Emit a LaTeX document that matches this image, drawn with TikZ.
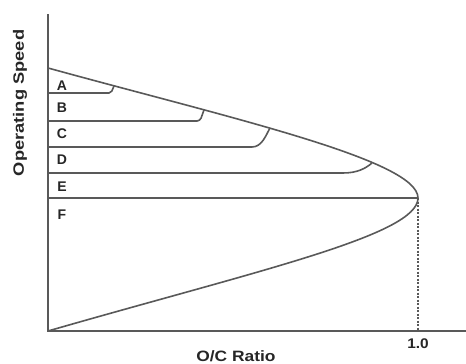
\documentclass[tikz,border=0pt]{standalone}
\usepackage{fontspec}
\setmainfont{Liberation Sans}
\begin{document}
\begin{tikzpicture}[x=1pt,y=-1pt,
  ln/.style={draw=black!65,line width=1.6pt},
  lbl/.style={font=\fontsize{14}{14}\selectfont\bfseries,text=black!85,inner sep=0pt},
  axl/.style={font=\fontsize{15}{15}\selectfont\bfseries,text=black!85,inner sep=0pt}]
\useasboundingbox (0,0) rectangle (466,364);
\coordinate (top) at (48,14);
\coordinate (o) at (48,331);
\coordinate (xr) at (466,331);
\coordinate (s0) at (48,68);
\coordinate (nose) at (418,198);
\coordinate (foot) at (418,331);
% axes
\draw[ln] (top) -- (o) -- (xr);
% upper and lower curves
\draw[ln] (s0) .. controls (230,118) and (418,160) .. (nose);
\draw[ln] (o) .. controls (260,270) and (418,235) .. (nose);
% steps
\coordinate (aL) at (48,93);  \coordinate (aR) at (114,86);
\coordinate (bL) at (48,121); \coordinate (bR) at (204,110);
\coordinate (cL) at (48,147); \coordinate (cR) at (270,128);
\coordinate (dL) at (48,173); \coordinate (dR) at (372,163);
\coordinate (eL) at (48,198);
\draw[ln,rounded corners=2pt] (aL) -- (111,93) -- (aR);
\draw[ln,rounded corners=3pt] (bL) -- (200,121) -- (bR);
\draw[ln] (cL) -- (252,147) .. controls (262,147) and (266,135) .. (cR);
\draw[ln] (dL) -- (343,173) .. controls (358,173) and (366,168) .. (dR);
\draw[ln] (eL) -- (nose);
\draw[draw=black!65,line width=1.2pt,dash pattern=on 2pt off 1.5pt] (nose) -- (foot);
% labels
\node[lbl] (A) at (62,86) {A};
\node[lbl] (B) at (62,108) {B};
\node[lbl] (C) at (62,134) {C};
\node[lbl] (D) at (62,160) {D};
\node[lbl] (E) at (62,187) {E};
\node[lbl] (F) at (62,215) {F};
\node[lbl,xscale=1.1] (one) at (418,344) {1.0};
\node[axl,xscale=1.16] (xl) at (236,356) {O/C Ratio};
\node[axl,rotate=90,xscale=1.22] (yl) at (20,103) {Operating Speed};
\end{tikzpicture}
\end{document}
